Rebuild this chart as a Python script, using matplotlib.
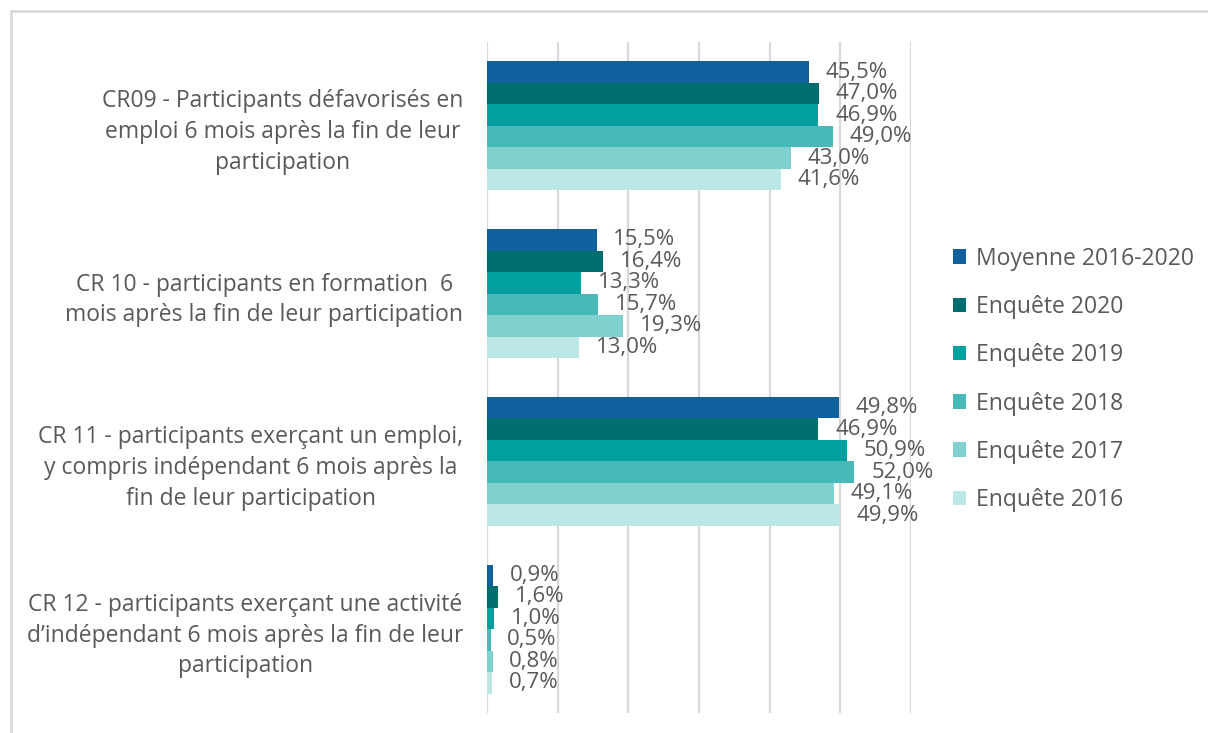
import numpy as np
import matplotlib.pyplot as plt
from matplotlib.lines import Line2D

plt.rcParams['font.family'] = ['Open Sans', 'DejaVu Sans']

# catégories (indicateurs)
categories = [
    "CR09 - Participants défavorisés en\nemploi 6 mois après la fin de leur\nparticipation",
    "CR 10 - participants en formation  6\nmois après la fin de leur participation",
    "CR 11 - participants exerçant un emploi,\ny compris indépendant 6 mois après la\nfin de leur participation",
    "CR 12 - participants exerçant une activité\nd\u2019indépendant 6 mois après la fin de leur\nparticipation",
]

series = ["Moyenne 2016-2020", "Enquête 2020", "Enquête 2019",
          "Enquête 2018", "Enquête 2017", "Enquête 2016"]

moyenne = [45.5, 15.5, 49.8, 0.9]
enq_2020 = [47.0, 16.4, 46.9, 1.6]
enq_2019 = [46.9, 13.3, 50.9, 1.0]
enq_2018 = [49.0, 15.7, 52.0, 0.5]
enq_2017 = [43.0, 19.3, 49.1, 0.8]
enq_2016 = [41.6, 13.0, 49.9, 0.7]

valeurs = [moyenne, enq_2020, enq_2019, enq_2018, enq_2017, enq_2016]
couleurs = ['#10609e', '#006e6e', '#00a0a0', '#48b9b9', '#80d0d0', '#bde6e6']

gris = '#595959'

fig = plt.figure(figsize=(12.08, 7.33), dpi=100)
ax = fig.add_axes([487/1208, 1 - 713/733, (911-487)/1208, (713-42)/733])

n = len(series)
h = 0.77 / n
y = np.arange(len(categories))

for i, (nom, vals, c) in enumerate(zip(series, valeurs, couleurs)):
    pos = y - 0.385 + h * (i + 0.5)
    ax.barh(pos, vals, height=h, color=c, label=nom, zorder=3)
    for p, v in zip(pos, vals):
        ax.annotate(f"{v:.1f}%".replace('.', ','), (v, p), xytext=(12, 0),
                    textcoords='offset points', ha='left', va='center',
                    fontsize=16, color=gris, zorder=4)

ax.set_xlim(0, 60)
ax.set_ylim(len(categories) - 0.5, -0.5)
ax.set_xticks(range(0, 61, 10))
ax.set_xticklabels([])
ax.grid(axis='x', color='#d9d9d9', linewidth=1.6, zorder=0)
ax.tick_params(axis='both', length=0)
ax.set_yticks(y)
ax.set_yticklabels(categories, fontsize=16.5, color=gris, multialignment='center',
                   linespacing=1.38)
ax.tick_params(axis='y', pad=17)
for s in ax.spines.values():
    s.set_visible(False)

leg = fig.legend(loc='upper left', bbox_to_anchor=(932/1208, 1 - 226/733),
                 frameon=False, fontsize=16.5, labelcolor=gris,
                 handlelength=0.6, handleheight=0.6, handletextpad=0.4,
                 labelspacing=1.06)

# cadre
fig.add_artist(Line2D([11/1208, 11/1208], [0, 1 - 11/733], color='#d9d9d9', linewidth=2))
fig.add_artist(Line2D([11/1208, 1], [1 - 11/733, 1 - 11/733], color='#d9d9d9', linewidth=2))

fig.savefig('out.png', dpi=100)
